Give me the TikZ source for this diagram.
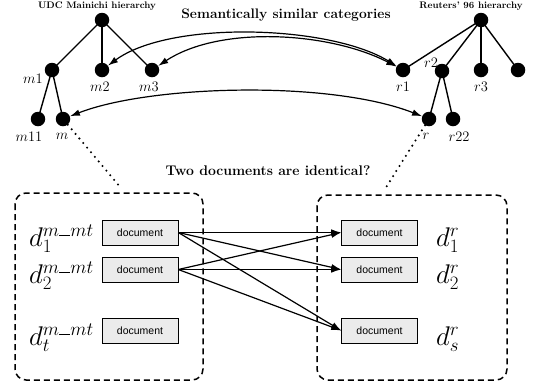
\documentclass[tikz,border=0pt]{standalone}
\usepackage{fix-cm}
\usepackage{fontspec}
\newfontfamily\docfont{Liberation Sans}
\usetikzlibrary{arrows.meta}
\newcommand{\usc}{\rule[-0.01em]{0.42em}{0.06em}}
\begin{document}
\begin{tikzpicture}[x=1pt,y=-1pt,
  dot/.style={circle,fill=black,minimum size=14.5pt,inner sep=0pt},
  edge/.style={line width=1.4pt},
  arr/.style={line width=1.2pt,-{Latex[length=10pt,width=6.5pt]}},
  barr/.style={line width=1.2pt,{Latex[length=10pt,width=6.5pt]}-{Latex[length=10pt,width=6.5pt]}},
  docbox/.style={draw,fill=black!8,minimum width=76pt,minimum height=25pt,inner sep=0pt,font=\docfont\fontsize{10.5}{12}\selectfont,line width=0.6pt},
  frame/.style={draw,line width=1.5pt,rounded corners=11pt,dash pattern=on 6pt off 4pt},
  lab/.style={font=\fontsize{14.5}{16}\selectfont,inner sep=0pt},
  dlab/.style={font=\fontsize{27}{30}\selectfont,inner sep=0pt,anchor=base west},
  htitle/.style={font=\bfseries\fontsize{9.5}{11}\selectfont,inner sep=0pt},
  btitle/.style={font=\bfseries\fontsize{13.8}{16}\selectfont,inner sep=0pt},
  qtitle/.style={font=\bfseries\fontsize{14}{16}\selectfont,inner sep=0pt},
  dotline/.style={line width=2.3pt,line cap=round,dash pattern=on 0pt off 6pt}]
\useasboundingbox (0,0) rectangle (537,389);

% Mainichi tree
\node[dot] (mroot) at (102,20) {};
\node[dot] (m1) at (52,70) {};
\node[dot] (m2) at (102,70) {};
\node[dot] (m3) at (152,70) {};
\node[dot] (m11) at (38,119) {};
\node[dot] (m) at (63,119) {};
\draw[edge] (mroot.center) -- (m1.center);
\draw[edge] (mroot.center) -- (m2.center);
\draw[edge] (mroot.center) -- (m3.center);
\draw[edge] (m1.center) -- (m11.center);
\draw[edge] (m1.center) -- (m.center);
\node[htitle] (mt) at (97,6) {UDC Mainichi hierarchy};
\node[lab] (lm1) at (33,79) {$m1$};
\node[lab] (lm2) at (100,87) {$m2$};
\node[lab] (lm3) at (149,87) {$m3$};
\node[lab] (lm11) at (29,137) {$m11$};
\node[lab] (lm) at (62,136) {$m$};

% Reuters tree
\node[dot] (rroot) at (481,20) {};
\node[dot] (r1) at (403,70) {};
\node[dot] (r2) at (442,71) {};
\node[dot] (r3) at (481,70) {};
\node[dot] (r4) at (518,70) {};
\node[dot] (r) at (429,119) {};
\node[dot] (r22) at (453,119) {};
\draw[edge] (rroot.center) -- (r1.center);
\draw[edge] (rroot.center) -- (r2.center);
\draw[edge] (rroot.center) -- (r3.center);
\draw[edge] (rroot.center) -- (r4.center);
\draw[edge] (r2.center) -- (r.center);
\draw[edge] (r2.center) -- (r22.center);
\node[htitle] (rt) at (471,6) {Reuters' 96 hierarchy};
\node[lab] (lr1) at (403,87) {$r1$};
\node[lab] (lr2) at (431,63) {$r2$};
\node[lab] (lr3) at (481,87) {$r3$};
\node[lab] (lr) at (426,136) {$r$};
\node[lab] (lr22) at (459,137) {$r22$};

\node[btitle] (sem) at (286,15) {Semantically similar categories};

% curved correspondences
\draw[barr] (m2) .. controls (170,20) and (330,25) .. (r1);
\draw[barr] (m3) .. controls (220,25) and (330,32) .. (r1);
\draw[barr] (m) .. controls (150,85) and (330,80) .. (r);

% dotted leaders
\coordinate (lt) at (121,188);
\coordinate (rtp) at (385,189);
\draw[dotline] (m) -- (lt);
\draw[dotline] (r) -- (rtp);

\node[qtitle] (q) at (268,171) {Two documents are identical?};

% frames
\draw[frame] (15,193) rectangle (203,380);
\draw[frame] (317,195) rectangle (507,380);

% documents
\node[docbox] (a1) at (140,232.5) {document};
\node[docbox] (a2) at (140,269.5) {document};
\node[docbox] (a3) at (140,330.5) {document};
\node[docbox] (b1) at (379.5,232.5) {document};
\node[docbox] (b2) at (379.5,269.5) {document};
\node[docbox] (b3) at (379.5,330.5) {document};

\node[dlab] (da1) at (29,246) {$d_1^{m\usc mt}$};
\node[dlab] (da2) at (29,283) {$d_2^{m\usc mt}$};
\node[dlab] (da3) at (29,345) {$d_t^{m\usc mt}$};
\node[dlab] (db1) at (436,246) {$d_1^{r}$};
\node[dlab] (db2) at (436,283) {$d_2^{r}$};
\node[dlab] (db3) at (436,345) {$d_s^{r}$};

\foreach \s in {a1,a2}{
  \foreach \t in {b1,b2,b3}{
    \draw[arr] (\s.east) -- (\t.west);
  }
}
\end{tikzpicture}
\end{document}
